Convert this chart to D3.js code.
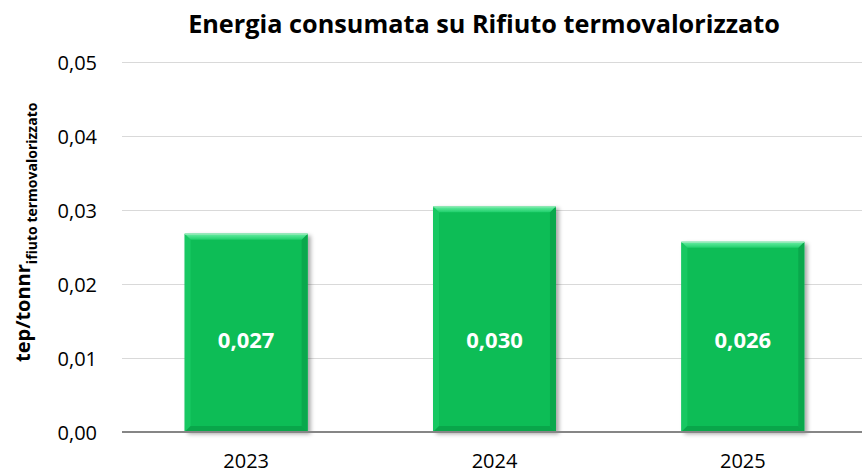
<!DOCTYPE html>
<html>
<head>
<meta charset="utf-8">
<script src="https://cdn.jsdelivr.net/npm/d3@7/dist/d3.min.js"></script>
<style>
  html, body { margin: 0; padding: 0; background: #ffffff; }
  svg { display: block; font-family: "Open Sans", sans-serif; }
</style>
</head>
<body>
<svg id="chart" width="862" height="474"></svg>
<script>
// ---- data ----
const title = "Energia consumata su Rifiuto termovalorizzato";
const categories = ["2023", "2024", "2025"];
const values = [0.0268, 0.0305, 0.0257];
const valueLabels = ["0,027", "0,030", "0,026"];
const yTicks = [0, 0.01, 0.02, 0.03, 0.04, 0.05];
const yTickLabels = ["0,00", "0,01", "0,02", "0,03", "0,04", "0,05"];
const yLabelMain = "tep/tonnr";
const yLabelSub = "ifiuto termovalorizzato";

// ---- layout ----
const W = 862, H = 474;
const plot = { left: 122, right: 867, top: 62, bottom: 432 };
const svg = d3.select("#chart");

const x = d3.scaleBand().domain(categories).range([plot.left, plot.right]).paddingInner(0.505).paddingOuter(0.2525);
const y = d3.scaleLinear().domain([0, 0.05]).range([plot.bottom, plot.top]);

const defs = svg.append("defs");
const f = defs.append("filter").attr("id", "shadow").attr("x", "-10%").attr("y", "-10%").attr("width", "130%").attr("height", "130%");
f.append("feDropShadow").attr("dx", 3).attr("dy", 2).attr("stdDeviation", 2.2).attr("flood-color", "#000").attr("flood-opacity", 0.35);

const topGrad = defs.append("linearGradient").attr("id", "topGrad").attr("x1", 0).attr("y1", 0).attr("x2", 0).attr("y2", 1);
topGrad.append("stop").attr("offset", "0%").attr("stop-color", "#6cefa6");
topGrad.append("stop").attr("offset", "100%").attr("stop-color", "#1fcf6b");

// gridlines
svg.append("g").selectAll("line").data(yTicks.slice(1)).join("line")
  .attr("x1", plot.left).attr("x2", W)
  .attr("y1", d => Math.round(y(d)) + 0.5).attr("y2", d => Math.round(y(d)) + 0.5)
  .attr("stroke", "#d9d9d9").attr("stroke-width", 1);

// y tick labels
svg.append("g").selectAll("text").data(yTicks).join("text")
  .attr("x", 97).attr("y", d => y(d) + 7.5)
  .attr("text-anchor", "end").attr("font-size", 20).attr("fill", "#000")
  .text((d, i) => yTickLabels[i]);

// bars
const b = 6;
const bars = svg.append("g").selectAll("g").data(values).join("g");
bars.each(function(v, i) {
  const g = d3.select(this);
  const x0 = x(categories[i]), x1 = x0 + x.bandwidth();
  const y0 = y(v), y1 = y(0);
  g.append("rect").attr("x", x0).attr("y", y0).attr("width", x1 - x0).attr("height", y1 - y0)
    .attr("fill", "#0bbd56").attr("filter", "url(#shadow)");
  const poly = (pts, fill) => g.append("polygon").attr("points", pts.map(p => p.join(",")).join(" ")).attr("fill", fill);
  poly([[x0, y0], [x0 + b, y0 + b], [x0 + b, y1 - b], [x0, y1]], "#17c862");
  poly([[x1, y0], [x1, y1], [x1 - b, y1 - b], [x1 - b, y0 + b]], "#0aa84c");
  poly([[x0, y1], [x1, y1], [x1 - b, y1 - b], [x0 + b, y1 - b]], "#09a64a");
  poly([[x0, y0], [x1, y0], [x1 - b, y0 + b], [x0 + b, y0 + b]], "url(#topGrad)");
  g.append("line").attr("x1", x0).attr("x2", x1).attr("y1", y0 + 0.5).attr("y2", y0 + 0.5)
    .attr("stroke", "#9fe8bd").attr("stroke-width", 1);
});

// value labels
svg.append("g").selectAll("text").data(values).join("text")
  .attr("x", (d, i) => x(categories[i]) + x.bandwidth() / 2)
  .attr("y", (d, i) => y(0.0124) + 8)
  .attr("text-anchor", "middle").attr("font-size", 22).attr("font-weight", 700).attr("fill", "#ffffff")
  .text((d, i) => valueLabels[i]);

// baseline axis
svg.append("line").attr("x1", plot.left).attr("x2", W).attr("y1", plot.bottom).attr("y2", plot.bottom)
  .attr("stroke", "#868686").attr("stroke-width", 2);

// x labels
svg.append("g").selectAll("text").data(categories).join("text")
  .attr("x", d => x(d) + x.bandwidth() / 2).attr("y", 468)
  .attr("text-anchor", "middle").attr("font-size", 20).attr("fill", "#000")
  .text(d => d);

// title
const t = svg.append("text").attr("x", 484).attr("y", 33).attr("text-anchor", "middle")
  .attr("font-size", 22).attr("font-weight", 700).attr("fill", "#000").text(title);
const tw = t.node().getComputedTextLength();
t.attr("font-size", 22 * 592 / tw);

// y axis label
const yl = svg.append("text").attr("transform", "translate(30,362) rotate(-90)")
  .attr("font-weight", 700).attr("fill", "#000");
yl.append("tspan").attr("font-size", 20).text(yLabelMain);
yl.append("tspan").attr("font-size", 14).attr("dy", 7).text(yLabelSub);
</script>
</body>
</html>
